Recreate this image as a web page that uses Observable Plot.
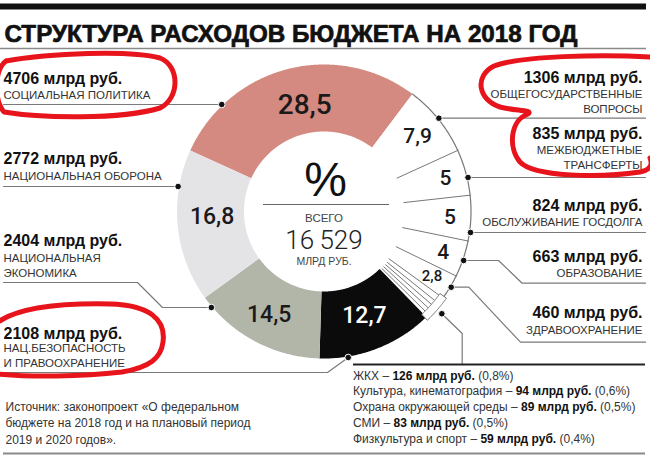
<!DOCTYPE html>
<html><head><meta charset="utf-8">
<script src="https://cdn.jsdelivr.net/npm/d3@7"></script>
<script src="https://cdn.jsdelivr.net/npm/@observablehq/plot@0.6"></script>
<style>
body{margin:0;background:#fff;}
#wrap{position:relative;width:650px;height:457px;overflow:hidden;font-family:"Liberation Sans",Arial,sans-serif;}
#wrap svg{position:absolute;left:0;top:0;}
#list{position:absolute;left:353px;top:368.6px;font-size:12px;line-height:15.8px;color:#333;white-space:nowrap;}
#list b{color:#111;}
</style></head><body><div id="wrap"></div>
<script>
// ---------- DATA ----------
const categories = ["Социальная политика","Общегосударственные вопросы","Межбюджетные трансферты","Обслуживание госдолга","Образование","Здравоохранение","ЖКХ","Культура, кинематография","Охрана окружающей среды","СМИ","Физкультура и спорт","Нац.безопасность и правоохранение","Национальная экономика","Национальная оборона"];
const values = [4706,1306,835,824,663,460,126,94,89,83,59,2108,2404,2772];
const shares = ["28,5","7,9","5","5","4","2,8","0,8","0,6","0,5","0,5","0,4","12,7","14,5","16,8"];
const labelNames = ["СОЦИАЛЬНАЯ ПОЛИТИКА","ОБЩЕГОСУДАРСТВЕННЫЕ\nВОПРОСЫ","МЕЖБЮДЖЕТНЫЕ\nТРАНСФЕРТЫ","ОБСЛУЖИВАНИЕ ГОСДОЛГА","ОБРАЗОВАНИЕ","ЗДРАВООХРАНЕНИЕ",null,null,null,null,null,"НАЦ.БЕЗОПАСНОСТЬ\nИ ПРАВООХРАНЕНИЕ","НАЦИОНАЛЬНАЯ\nЭКОНОМИКА","НАЦИОНАЛЬНАЯ ОБОРОНА"];
const smallCats = ["ЖКХ","Культура, кинематография","Охрана окружающей среды","СМИ","Физкультура и спорт"];
const unit = "млрд руб.";
const title = "СТРУКТУРА РАСХОДОВ БЮДЖЕТА НА 2018 ГОД";
const centerTexts = ["%","ВСЕГО","МЛРД РУБ."];
const sourceText = "Источник: законопроект «О федеральном\nбюджете на 2018 год и на плановый период\n2019 и 2020 годов».";

// ---------- LAYOUT / STYLE ----------
const W = 650, H = 457, cx = 323.5, cy = 211, rIn = 80, rOut = 147, rDot = 148;
const startDeg = -65.5;
const sliceFill = {"Социальная политика":"#d48a80","Нац.безопасность и правоохранение":"#0b0b0b","Национальная экономика":"#b2b6a9","Национальная оборона":"#e4e4e6"};
const shareStyle = {
  "Социальная политика":{size:28,r:108,da:4,color:"#1a1a1a"},
  "Общегосударственные вопросы":{size:21,r:120,da:0,color:"#1a1a1a"},
  "Межбюджетные трансферты":{size:21,r:126,da:0,color:"#1a1a1a"},
  "Обслуживание госдолга":{size:21,r:126,da:0,color:"#1a1a1a"},
  "Образование":{size:21,r:126,da:0,color:"#1a1a1a"},
  "Здравоохранение":{size:15,r:126,da:0,color:"#1a1a1a"},
  "Нац.безопасность и правоохранение":{size:23,r:112,da:0,color:"#ffffff"},
  "Национальная экономика":{size:23,r:117,da:0,color:"#1a1a1a"},
  "Национальная оборона":{size:23,r:112,da:3,color:"#1a1a1a"}
};
const labelLayout = [
  {cat:"Социальная политика", text:"left", dotSide:-1, valueY:83.5, nameY:98.5, dotY:104, path:[[3,104]]},
  {cat:"Национальная оборона", text:"left", dotSide:-1, valueY:163.5, nameY:179, dotY:186, path:[[3,186]]},
  {cat:"Национальная экономика", text:"left", dotSide:-1, valueY:245, nameY:276, dotY:307, path:[[162,307],[137,282],[3,282]]},
  {cat:"Нац.безопасность и правоохранение", text:"left", dotSide:1, valueY:338, nameY:366.5, dotY:357, path:[[327,372],[3,372]]},
  {cat:"Общегосударственные вопросы", text:"right", dotSide:1, valueY:82, nameY:112.3, dotY:117.7, path:[[645,117.7]]},
  {cat:"Межбюджетные трансферты", text:"right", dotSide:1, valueY:138.3, nameY:168.3, dotY:177, path:[[645,177]]},
  {cat:"Обслуживание госдолга", text:"right", dotSide:1, valueY:210, nameY:225.7, dotY:232, path:[[645,232]]},
  {cat:"Образование", text:"right", dotSide:1, valueY:261, nameY:276.7, dotY:260, path:[[498,260],[521.7,282.7],[645,282.7]]},
  {cat:"Здравоохранение", text:"right", dotSide:1, valueY:317.7, nameY:333.3, dotY:286.7, path:[[468.3,286.7],[520,341.7],[645,341.7]]}
];
const smallLeader = {r:156, path:[[461.7,333],[461.7,364]]};
const leaderColor = "#7a7a7a";

// ---------- BUILD ----------
const rows = categories.map((c,i)=>({cat:c, value:values[i], share:shares[i], name:labelNames[i]}));
const rad = d => d*Math.PI/180;
const px = (r,a) => cx + r*Math.sin(a);
const py = (r,a) => cy - r*Math.cos(a);
const arcs = d3.pie().sort(null).value(d=>d.value).startAngle(rad(startDeg)).endAngle(rad(startDeg+360))(rows);
const arcOf = Object.fromEntries(arcs.map(a=>[a.data.cat,a]));
function band(a0,a1,r0,r1,key){
  const n = Math.max(2, Math.ceil((a1-a0)/rad(0.5)));
  const pts = [];
  for(let i=0;i<=n;i++){const a=a0+(a1-a0)*i/n; pts.push({key,x:px(r1,a),y:py(r1,a)});}
  for(let i=n;i>=0;i--){const a=a0+(a1-a0)*i/n; pts.push({key,x:px(r0,a),y:py(r0,a)});}
  return pts;
}
function arcLine(a0,a1,r,key){
  const n = Math.max(2, Math.ceil((a1-a0)/rad(0.5)));
  return d3.range(n+1).map(i=>{const a=a0+(a1-a0)*i/n; return {key,x:px(r,a),y:py(r,a)};});
}
const sliceMarks = arcs.map(a => Plot.line(band(a.startAngle,a.endAngle,rIn,rOut,a.data.cat),
  {x:"x", y:"y", fill: sliceFill[a.data.cat] || "#ffffff", stroke:"none", curve:"linear-closed"}));

// white slices: separators
const whiteCats = categories.slice(1,6);
const smallArcs = smallCats.map(c=>arcOf[c]);
const seps = [];
whiteCats.slice(1).forEach(c=>{const a=arcOf[c].startAngle; seps.push({x1:px(rIn,a),y1:py(rIn,a),x2:px(rOut+1,a),y2:py(rOut+1,a)});});
seps.push({x1:px(rIn,smallArcs[0].startAngle),y1:py(rIn,smallArcs[0].startAngle),x2:px(rOut+1,smallArcs[0].startAngle),y2:py(rOut+1,smallArcs[0].startAngle)});
smallArcs.slice(1).forEach(s=>{const a=s.startAngle; seps.push({x1:px(rIn+1,a),y1:py(rIn+1,a),x2:px(142,a),y2:py(142,a)});});
const outerArc = arcLine(arcOf[whiteCats[0]].startAngle, smallArcs[0].startAngle+rad(0.3), rOut, "outer");
const bracket = band(smallArcs[0].startAngle-rad(0.6), smallArcs[4].endAngle+rad(0.6), 142, 150, "bracket");

// leaders and dots
const dots = [];
const leaders = [];
labelLayout.forEach(L=>{
  const dy = L.dotY - cy;
  const x = cx + L.dotSide*Math.sqrt(rDot*rDot - dy*dy);
  dots.push({x, y:L.dotY});
  leaders.push({key:L.cat,x,y:L.dotY});
  L.path.forEach(p=>leaders.push({key:L.cat,x:p[0],y:p[1]}));
});
const smallMid = (smallArcs[0].startAngle + smallArcs[4].endAngle)/2;
const sd = {x:px(smallLeader.r,smallMid), y:py(smallLeader.r,smallMid)};
dots.push(sd);
leaders.push({key:"small",...sd});
smallLeader.path.forEach(p=>leaders.push({key:"small",x:p[0],y:p[1]}));

const labelRows = labelLayout.map(L=>{const r = rows.find(d=>d.cat===L.cat); return {...L, value:r.value, name:r.name};});
const leftLabels = labelRows.filter(d=>d.text==="left");
const rightLabels = labelRows.filter(d=>d.text==="right");

const shareMarks = Object.keys(shareStyle).map(c=>{
  const a = arcOf[c], s = shareStyle[c];
  const m = (a.startAngle+a.endAngle)/2 + rad(s.da);
  return Plot.text([a], {x:()=>px(s.r,m), y:()=>py(s.r,m), text:d=>d.data.share, fontSize:s.size, fill:s.color, fontFamily:"Roboto, Liberation Sans, sans-serif", fontWeight:500, textAnchor:"middle"});
});

const total = d3.sum(values);
const fmtTotal = d3.formatLocale({thousands:"\u2009", grouping:[3], decimal:","}).format(",d");
const FONT = "Liberation Sans, Arial, sans-serif";

const chart = Plot.plot({
  width: W, height: H, margin: 0,
  x: {domain:[0,W], range:[0,W], axis:null},
  y: {domain:[0,H], range:[0,H], axis:null},
  style: {fontFamily: FONT, background:"#fff", overflow:"visible"},
  marks: [
    Plot.ruleY([6], {x1:0, x2:646, stroke:"#111", strokeWidth:6}),
    Plot.text([title], {x:4, y:41, text:d=>d, textAnchor:"start", lineAnchor:"bottom", fontSize:24, fontWeight:700, fill:"#111", stroke:"#111", strokeWidth:0.7}),
    Plot.ruleY([48], {x1:0, x2:646, stroke:"#8a8a8a", strokeWidth:1.5}),
    ...sliceMarks,
    Plot.link(seps, {x1:"x1", y1:"y1", x2:"x2", y2:"y2", stroke:"#777", strokeWidth:1}),
    Plot.line(outerArc, {x:"x", y:"y", stroke:"#777", strokeWidth:1.2}),
    Plot.line(bracket, {x:"x", y:"y", fill:"#fff", stroke:"#777", strokeWidth:1, curve:"linear-closed"}),
    Plot.line(leaders, {x:"x", y:"y", z:"key", stroke:leaderColor, strokeWidth:1.2, strokeLinejoin:"miter"}),
    Plot.dot(dots, {x:"x", y:"y", r:3.3, fill:"#111", stroke:"#fff", strokeWidth:1}),
    ...shareMarks,
    // centre
    Plot.link([0], {x1:cx-61, x2:cx+65, y1:204, y2:204, stroke:"#666", strokeWidth:1}),
    Plot.text([centerTexts[0]], {x:cx+1.5, y:195, text:d=>d, fontSize:48, lineAnchor:"bottom", fill:"#111"}),
    Plot.text([centerTexts[1]], {x:cx, y:221.7, text:d=>d, fontSize:11.5, lineAnchor:"bottom", fill:"#444"}),
    Plot.text([total], {x:cx, y:248.3, text:d=>fmtTotal(d), fontSize:26, fontWeight:300, fontFamily:"Roboto, Lato, sans-serif", lineAnchor:"bottom", fill:"#222"}),
    Plot.text([centerTexts[2]], {x:cx, y:264, text:d=>d, fontSize:10.5, lineAnchor:"bottom", fill:"#444"}),
    // labels
    Plot.text(leftLabels, {x:3, y:"valueY", text:d=>`${d.value} ${unit}`, textAnchor:"start", lineAnchor:"bottom", fontSize:16, fontWeight:700, fill:"#111"}),
    Plot.text(leftLabels, {x:3, y:"nameY", text:"name", textAnchor:"start", lineAnchor:"bottom", fontSize:11.5, lineHeight:1.27, fill:"#333"}),
    Plot.text(rightLabels, {x:642, y:"valueY", text:d=>`${d.value} ${unit}`, textAnchor:"end", lineAnchor:"bottom", fontSize:16, fontWeight:700, fill:"#111"}),
    Plot.text(rightLabels, {x:642, y:"nameY", text:"name", textAnchor:"end", lineAnchor:"bottom", fontSize:11.5, lineHeight:1.27, fill:"#333"}),
    // bottom
    Plot.ruleY([364], {x1:353, x2:645, stroke:"#222", strokeWidth:2}),
    Plot.text([sourceText], {x:5, y:443.3, text:d=>d, textAnchor:"start", lineAnchor:"bottom", fontSize:12, lineHeight:1.36, fill:"#333"}),
    Plot.ruleY([453], {x1:3, x2:645, stroke:"#8a8a8a", strokeWidth:2})
  ]
});
document.getElementById("wrap").appendChild(chart);

// title fitting
d3.select(chart).selectAll("text").filter(function(){return this.textContent===title;})
  .attr("textLength", 573).attr("lengthAdjust","spacingAndGlyphs");

// bottom list of small categories
const list = document.createElement("div");
list.id = "list";
list.innerHTML = smallCats.map(c=>{const r = rows.find(d=>d.cat===c); return `${c} – <b>${r.value} ${unit}</b> (${r.share}%)`;}).join("<br>");
document.getElementById("wrap").appendChild(list);

// red hand-drawn highlight marks (overlay)
const ov = d3.select("#wrap").append("svg").attr("width",W).attr("height",H).style("pointer-events","none");
const redPaths = [
  "M 6,61 C 50,53 130,50 160,58 C 180,66 180,98 160,108 C 120,120 40,118 4,112 C -6,100 -6,70 6,61",
  "M 652,57 C 600,54 520,56 494,66 C 474,76 478,100 500,107 C 515,111 534,110 528,114 C 510,120 508,148 520,162 C 534,177 600,178 640,172 C 650,170 653,165 650,158",
  "M -2,322 C 20,307 60,303 110,304 C 150,305 166,320 163,342 C 161,358 150,367 122,372 C 80,377 30,377 -2,374"
];
ov.selectAll("path").data(redPaths).join("path").attr("d",d=>d).attr("fill","none")
  .attr("stroke","#e8141b").attr("stroke-width",5).attr("stroke-linecap","round").attr("stroke-linejoin","round");
</script></body></html>
